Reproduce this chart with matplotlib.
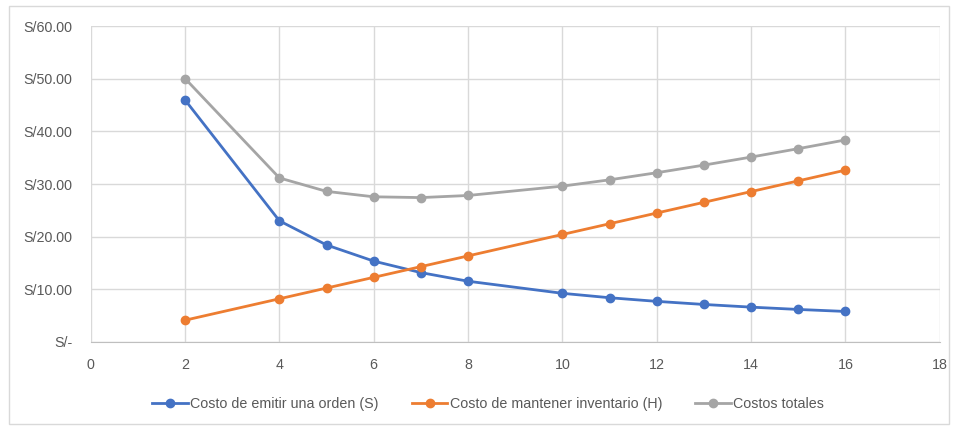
import matplotlib
matplotlib.use("Agg")
import matplotlib.pyplot as plt
from matplotlib.patches import Rectangle

plt.rcParams['font.family'] = ['Liberation Sans', 'DejaVu Sans']

# Data
q = [2, 4, 5, 6, 7, 8, 10, 11, 12, 13, 14, 15, 16]
costo_orden = [46.00, 23.00, 18.40, 15.33, 13.14, 11.50, 9.20, 8.36, 7.67, 7.08, 6.57, 6.13, 5.75]
costo_mantener = [4.08, 8.16, 10.20, 12.24, 14.28, 16.32, 20.40, 22.44, 24.48, 26.52, 28.56, 30.60, 32.64]
costos_totales = [50.08, 31.16, 28.60, 27.57, 27.42, 27.82, 29.60, 30.80, 32.15, 33.60, 35.13, 36.73, 38.39]

y_ticks = [0, 10, 20, 30, 40, 50, 60]
y_labels = ['S/-', 'S/10.00', 'S/20.00', 'S/30.00', 'S/40.00', 'S/50.00', 'S/60.00']
x_ticks = [0, 2, 4, 6, 8, 10, 12, 14, 16, 18]

blue = '#4472C4'
orange = '#ED7D31'
gray = '#A5A5A5'

fig = plt.figure(figsize=(9.55, 4.26), dpi=100)
ax = fig.add_axes([0.095, 0.198, 0.889, 0.740])

# chart area border
fig.patches.append(Rectangle((0.009, 0.005), 0.985, 0.982, transform=fig.transFigure,
                             fill=False, edgecolor='#D9D9D9', linewidth=1))

ax.plot(q, costo_orden, color=blue, lw=2, marker='o', ms=6, label='Costo de emitir una orden (S)', zorder=3)
ax.plot(q, costo_mantener, color=orange, lw=2, marker='o', ms=6, label='Costo de mantener inventario (H)', zorder=3)
ax.plot(q, costos_totales, color=gray, lw=2, marker='o', ms=6, label='Costos totales', zorder=3)

ax.set_xlim(0, 18)
ax.set_ylim(0, 60)
ax.set_xticks(x_ticks)
ax.set_yticks(y_ticks)
ax.set_yticklabels(y_labels)
ax.grid(True, color='#D9D9D9', lw=1)
ax.set_axisbelow(True)
for s in ['top', 'left', 'right']:
    ax.spines[s].set_visible(False)
ax.spines['bottom'].set_color('#BFBFBF')
ax.tick_params(length=0, colors='#595959', labelsize=10.3, pad=12)
ax.tick_params(axis='y', pad=13)

ax.legend(loc='upper center', bbox_to_anchor=(0.468, -0.135), ncol=3, frameon=False,
          fontsize=10.3, labelcolor='#595959', handlelength=2.5, handletextpad=0.15,
          columnspacing=2.3)

fig.savefig('out.png', dpi=100)
